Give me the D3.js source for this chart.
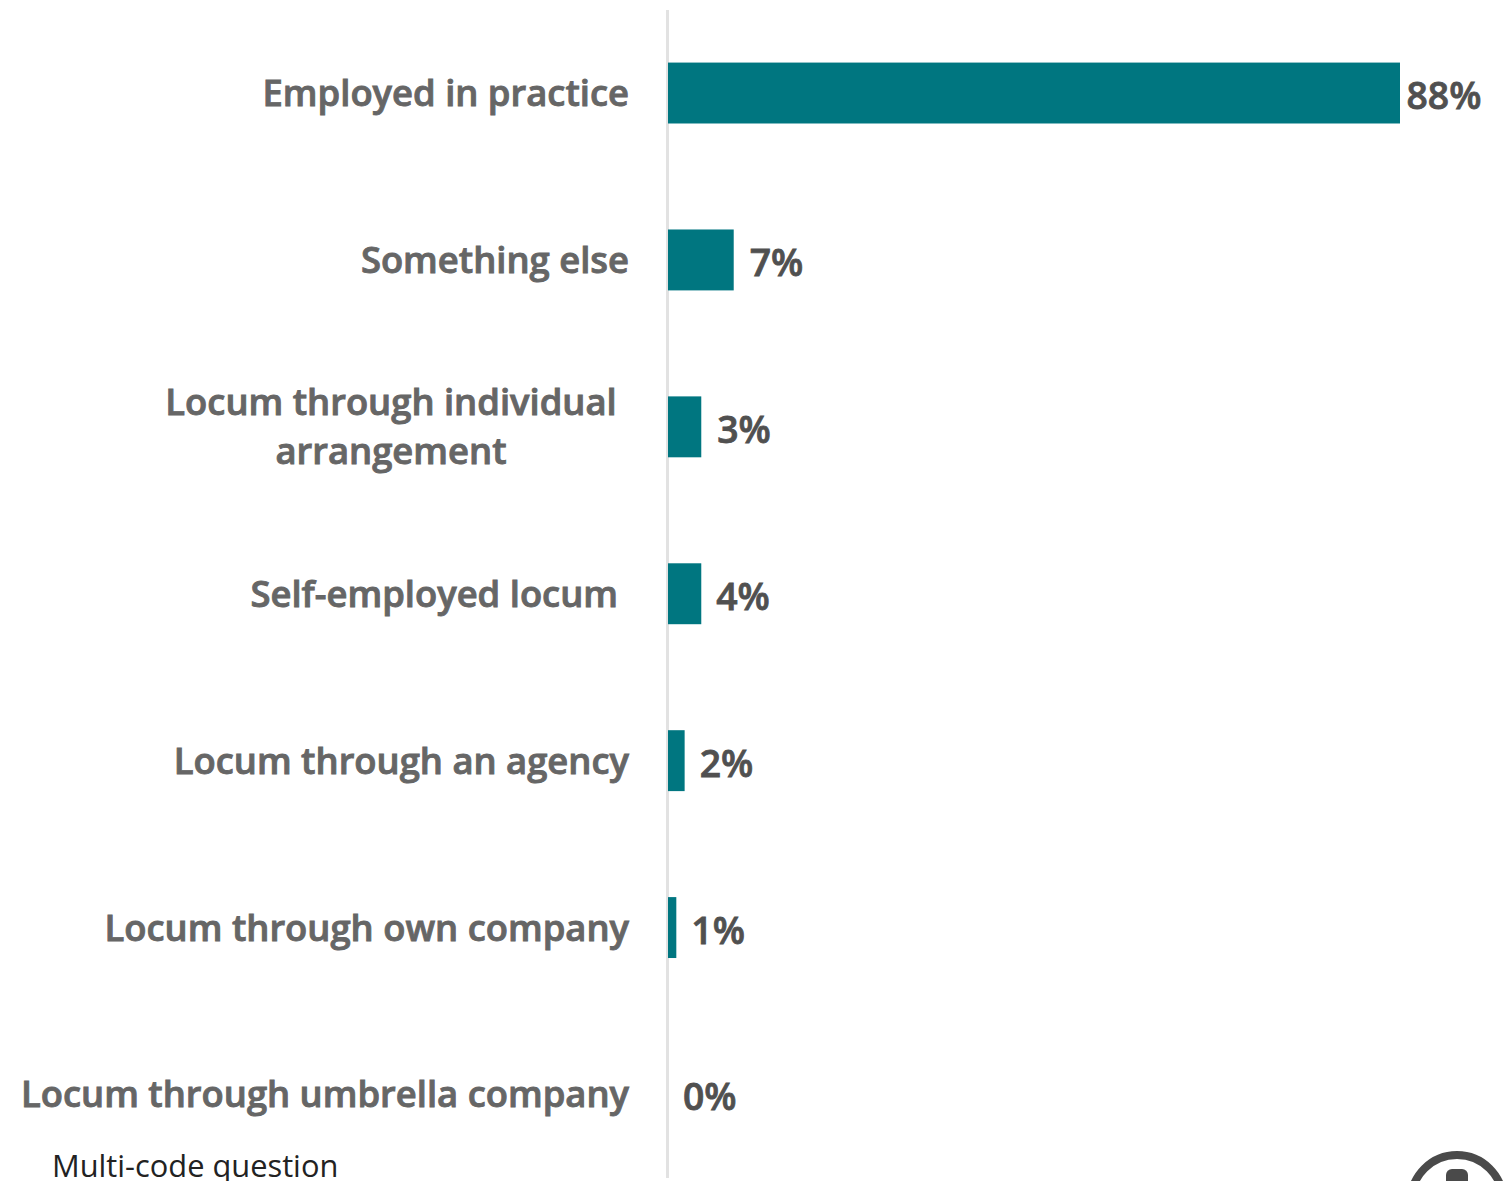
<!DOCTYPE html>
<html><head><meta charset="utf-8">
<script src="https://cdn.jsdelivr.net/npm/d3@7"></script>
<style>html,body{margin:0;background:#fff}svg{display:block}text{font-family:"Open Sans",sans-serif}</style>
</head><body><svg id="c" width="1509" height="1181"></svg>
<script>
const categories=[["Employed in practice"],["Something else"],["Locum through individual","arrangement"],["Self-employed locum"],["Locum through an agency"],["Locum through own company"],["Locum through umbrella company"]];
const barValues=[88,7.9,4,4,2,1,0];
const valueLabels=["88%","7%","3%","4%","2%","1%","0%"];
const labelRight=[629,629,618,618,629,629,629];
const labelGap=[6.5,16,16,15,15,15,15];
const svg=d3.select("#c");
const x=d3.scaleLinear().domain([0,88]).range([668,1400]);
const y=d3.scaleBand().domain(d3.range(7)).range([9.5,1178]).paddingInner(0.635).paddingOuter(0.318);
svg.append("line").attr("x1",667.5).attr("x2",667.5).attr("y1",10).attr("y2",1178).attr("stroke","#e2e2e2").attr("stroke-width",3);
svg.selectAll("rect.b").data(barValues).join("rect").attr("class","b").attr("x",x(0)).attr("y",(d,i)=>y(i)).attr("width",d=>x(d)-x(0)).attr("height",y.bandwidth()).attr("fill","#007680");
svg.selectAll("text.v").data(valueLabels).join("text").attr("class","v").attr("x",(d,i)=>x(barValues[i])+labelGap[i]).attr("y",(d,i)=>y(i)+y.bandwidth()/2+16).attr("font-size",37.3).attr("font-weight",600).attr("fill","#505050").attr("stroke","#505050").attr("stroke-width",0.8).text(d=>d);
categories.forEach((c,i)=>{
 const cy=y(i)+y.bandwidth()/2;
 const multi=c.length>1;
 const t=svg.append("text").attr("text-anchor",multi?"middle":"end").attr("font-size",multi?36.4:36.4).attr("font-weight",600).attr("fill","#666").attr("stroke","#666").attr("stroke-width",0.9);
 c.forEach((s,j)=>t.append("tspan").attr("x",multi?391:labelRight[i]).attr("y",cy+13-(multi?24.5:0)+j*49).text(s));
});
svg.append("text").attr("x",52).attr("y",1176.5).attr("font-size",30.8).attr("fill","#222").text("Multi-code question");
svg.append("circle").attr("cx",1457).attr("cy",1201).attr("r",46).attr("fill","none").attr("stroke","#4a4a4a").attr("stroke-width",8);
svg.append("rect").attr("x",1446).attr("y",1169).attr("width",22).attr("height",20).attr("rx",6).attr("fill","#4a4a4a");
</script></body></html>
